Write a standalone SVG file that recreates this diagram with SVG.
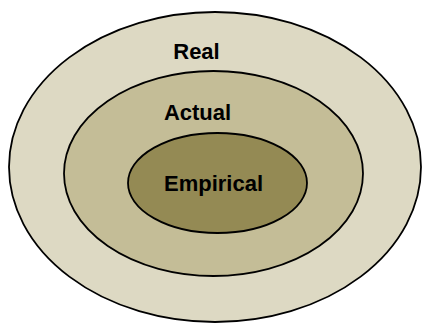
<svg xmlns="http://www.w3.org/2000/svg" width="422" height="324" viewBox="0 0 422 324">
<style>
.e{stroke:#000;stroke-width:1.8}
.t{font-family:"Liberation Sans",Arial,sans-serif;font-weight:bold;font-size:22px;fill:#000;text-anchor:middle}
</style>
<rect width="422" height="324" fill="#fff"/>
<g id="real">
<ellipse class="e" cx="215" cy="167" rx="206" ry="155" fill="#DDD9C3"/>
<text class="t" x="196.5" y="59">Real</text>
</g>
<g id="actual">
<ellipse class="e" cx="213.5" cy="173.5" rx="149.5" ry="102.5" fill="#C4BD97"/>
<text class="t" x="197.5" y="120">Actual</text>
</g>
<g id="empirical">
<ellipse class="e" cx="217.5" cy="183" rx="89.5" ry="50" fill="#948A54"/>
<text class="t" x="213.5" y="191">Empirical</text>
</g>
<g id="connectors"></g>
</svg>
